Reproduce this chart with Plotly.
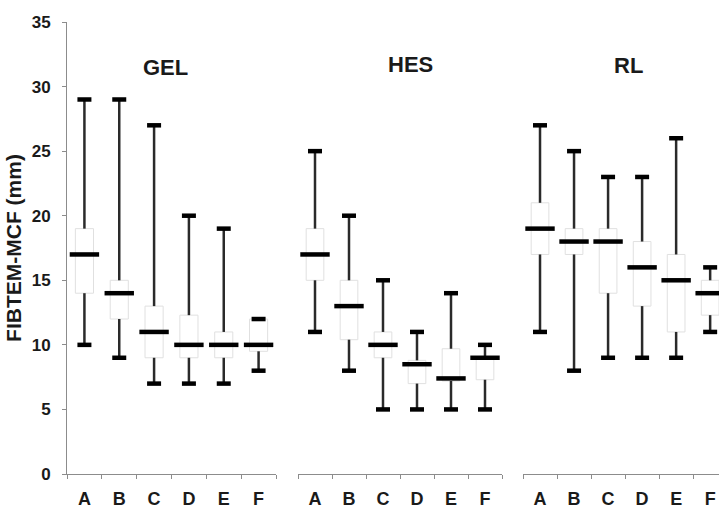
import plotly.graph_objects as go

categories = ["A", "B", "C", "D", "E", "F"]
groups = ["GEL", "HES", "RL"]

# per group: lower whisker, Q1, median, Q3, upper whisker
gel_low = [10, 9, 7, 7, 7, 8]
gel_q1 = [14, 12, 9, 9, 9, 9.5]
gel_med = [17, 14, 11, 10, 10, 10]
gel_q3 = [19, 15, 13, 12.3, 11, 12]
gel_high = [29, 29, 27, 20, 19, 12]

hes_low = [11, 8, 5, 5, 5, 5]
hes_q1 = [15, 10.4, 9, 7, 7.2, 7.3]
hes_med = [17, 13, 10, 8.5, 7.4, 9]
hes_q3 = [19, 15, 11, 8.8, 9.7, 9.1]
hes_high = [25, 20, 15, 11, 14, 10]

rl_low = [11, 8, 9, 9, 9, 11]
rl_q1 = [17, 17, 14, 13, 11, 12.3]
rl_med = [19, 18, 18, 16, 15, 14]
rl_q3 = [21, 19, 19, 18, 17, 15]
rl_high = [27, 25, 23, 23, 26, 16]

y_ticks = [0, 5, 10, 15, 20, 25, 30, 35]

data = {
    "GEL": (gel_low, gel_q1, gel_med, gel_q3, gel_high),
    "HES": (hes_low, hes_q1, hes_med, hes_q3, hes_high),
    "RL": (rl_low, rl_q1, rl_med, rl_q3, rl_high),
}

W, H = 719, 510
ml, mr, mt, mb = 67, 0, 22, 36
pw = W - ml - mr
ph = H - mt - mb

def px2x(p):
    return (p - ml) / pw

def px2y(p):
    return (H - mb - p) / ph

domains = [
    [px2x(67), px2x(276)],
    [px2x(298), px2x(502)],
    [px2x(523), 1.0],
]
xranges = [[-0.5, 5.5], [-0.5, 5.5], [-0.5, 5.26]]

fig = go.Figure()
font_family = "Liberation Sans, Arial, sans-serif"
whisker_color = "#2a2a2a"

for i, g in enumerate(groups):
    low, q1, med, q3, high = data[g]
    xa = "x" if i == 0 else f"x{i+1}"
    ya = "y"
    fig.add_trace(go.Box(
        x=categories, q1=q1, median=med, q3=q3,
        lowerfence=q1, upperfence=q3,
        xaxis=xa, yaxis=ya, width=0.52,
        fillcolor="white", line=dict(color="#e0e0e0", width=1),
        whiskerwidth=0, boxpoints=False, showlegend=False, hoverinfo="skip",
    ))
    # whiskers
    wx, wy = [], []
    for c, lo, a, b, hi in zip(categories, low, q1, q3, high):
        wx += [c, c, None, c, c, None]
        wy += [lo, a, None, b, hi, None]
    fig.add_trace(go.Scatter(
        x=wx, y=wy, mode="lines", xaxis=xa, yaxis=ya,
        line=dict(color=whisker_color, width=2.5),
        showlegend=False, hoverinfo="skip",
    ))
    # caps
    fig.add_trace(go.Scatter(
        x=categories + categories, y=low + high, mode="markers",
        xaxis=xa, yaxis=ya,
        marker=dict(symbol="line-ew", size=10, line=dict(color="black", width=4.5)),
        showlegend=False, hoverinfo="skip",
    ))
    # medians
    fig.add_trace(go.Scatter(
        x=categories, y=med, mode="markers", xaxis=xa, yaxis=ya,
        marker=dict(symbol="line-ew", size=21, line=dict(color="black", width=4.5)),
        showlegend=False, hoverinfo="skip",
    ))

tickfont = dict(family=font_family, size=18, color="#1a1a1a", weight="bold")
for i in range(3):
    key = "xaxis" if i == 0 else f"xaxis{i+1}"
    fig.layout[key] = dict(
        domain=domains[i], anchor="y", type="category",
        categoryorder="array", categoryarray=categories,
        range=xranges[i], showgrid=False, zeroline=False,
        showline=True, linecolor="#8c8c8c", linewidth=1,
        ticks="outside", ticklen=4, tickcolor="#8c8c8c", tickson="boundaries",
        tickfont=tickfont, ticklabelstandoff=8, automargin=False,
    )

fig.update_layout(
    width=W, height=H,
    margin=dict(l=ml, r=mr, t=mt, b=mb),
    paper_bgcolor="white", plot_bgcolor="white",
    yaxis=dict(
        domain=[0, 1], range=[0, 35], tickvals=y_ticks, automargin=False,
        showgrid=False, zeroline=False, showline=True,
        linecolor="#8c8c8c", linewidth=1, ticks="outside", ticklen=4,
        tickcolor="#8c8c8c",
        tickfont=dict(family=font_family, size=17, color="#1a1a1a", weight="bold"),
        ticklabelstandoff=8,
        title=dict(text="FIBTEM-MCF (mm)", standoff=4,
                   font=dict(family=font_family, size=21, color="#1a1a1a", weight="bold")),
    ),
)

title_pos = [(165, 67), (410, 64), (628, 65)]
for g, (tx, ty) in zip(groups, title_pos):
    fig.add_annotation(
        text=g, x=px2x(tx), y=px2y(ty), xref="paper", yref="paper",
        showarrow=False, xanchor="center", yanchor="middle",
        font=dict(family=font_family, size=22, color="#1a1a1a", weight="bold"),
    )

fig.write_html("out.html")
